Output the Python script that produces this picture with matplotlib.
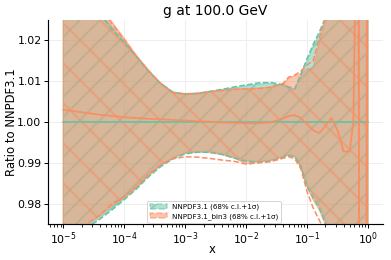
import numpy as np
import matplotlib
matplotlib.use('Agg')
import matplotlib.pyplot as plt
from matplotlib.patches import Patch

# log10(x) nodes
logx = [-5.0, -4.8, -4.6, -4.4, -4.2, -4.0, -3.8, -3.6, -3.4, -3.2, -3.0,
        -2.8, -2.6, -2.4, -2.2, -2.0, -1.8, -1.6, -1.4, -1.3, -1.2, -1.1,
        -1.0, -0.9, -0.8, -0.7, -0.6, -0.5, -0.4, -0.3, -0.24, -0.2, -0.155,
        -0.145, -0.1, -0.025, -0.015, 0.0]

# NNPDF3.1 (reference, so central = 1)
ref_cv = [1.0] * len(logx)
ref_up = [1.060, 1.045, 1.035, 1.027, 1.0232, 1.0198, 1.0162, 1.0125, 1.0095, 1.0074, 1.0069,
          1.0070, 1.0074, 1.0079, 1.0084, 1.0089, 1.0093, 1.0095, 1.0090, 1.0085, 1.0080, 1.0115,
          1.0150, 1.0185, 1.0215, 1.0250, 1.030, 1.040, 1.050, 1.060, 1.070, 1.080, 1.090,
          1.090, 1.100, 1.110, 1.110, 1.120]
ref_lo = [0.940, 0.960, 0.9745, 0.9765, 0.9788, 0.9812, 0.9838, 0.9868, 0.9893, 0.9912, 0.9924,
          0.9928, 0.9928, 0.9923, 0.9914, 0.9906, 0.9903, 0.9906, 0.9915, 0.9920, 0.9917, 0.9893,
          0.9848, 0.9822, 0.9796, 0.9760, 0.9720, 0.965, 0.955, 0.945, 0.940, 0.935, 0.930,
          0.930, 0.920, 0.910, 0.910, 0.900]
ref_sd_up = [1.058, 1.043, 1.034, 1.0265, 1.0227, 1.0195, 1.0160, 1.0124, 1.0094, 1.0073, 1.0068,
             1.0070, 1.0075, 1.0080, 1.0086, 1.0091, 1.0096, 1.0097, 1.0092, 1.0086, 1.0082, 1.0118,
             1.0155, 1.0190, 1.0220, 1.0255, 1.031, 1.041, 1.051, 1.061, 1.071, 1.081, 1.091,
             1.091, 1.101, 1.111, 1.111, 1.121]
ref_sd_lo = [0.942, 0.961, 0.9742, 0.9762, 0.9785, 0.9810, 0.9836, 0.9866, 0.9891, 0.9910, 0.9922,
             0.9926, 0.9926, 0.9921, 0.9912, 0.9904, 0.9901, 0.9904, 0.9913, 0.9918, 0.9915, 0.9890,
             0.9843, 0.9815, 0.9790, 0.9752, 0.9712, 0.964, 0.954, 0.944, 0.939, 0.934, 0.929,
             0.929, 0.919, 0.909, 0.909, 0.899]

# NNPDF3.1_bin3
bin_cv = [1.0030, 1.0026, 1.0022, 1.0018, 1.0015, 1.0012, 1.0010, 1.0008, 1.0007, 1.0005, 1.0004,
          1.0002, 1.0001, 0.9999, 0.9998, 0.9997, 0.9997, 0.9999, 1.0008, 1.0015, 1.0017, 1.0010,
          0.9995, 0.9980, 0.9973, 0.9990, 1.0010, 0.9980, 0.9928, 0.9928, 1.0000, 1.0400, 1.0400,
          0.9600, 0.9600, 0.9600, 1.0400, 1.0400]
bin_up = [1.070, 1.050, 1.038, 1.029, 1.0245, 1.0205, 1.0163, 1.0127, 1.0095, 1.0072, 1.0070,
          1.0071, 1.0075, 1.0078, 1.0081, 1.0082, 1.0083, 1.0086, 1.0092, 1.0108, 1.0113, 1.0118,
          1.0130, 1.0132, 1.0195, 1.0245, 1.030, 1.045, 1.060, 1.080, 1.090, 1.100, 1.200,
          1.200, 1.250, 1.300, 1.300, 1.400]
bin_lo = [0.930, 0.955, 0.9750, 0.9770, 0.9795, 0.9815, 0.9840, 0.9870, 0.9895, 0.9913, 0.9924,
          0.9926, 0.9925, 0.9920, 0.9912, 0.9898, 0.9902, 0.9906, 0.9914, 0.9919, 0.9914, 0.9890,
          0.9840, 0.9810, 0.9785, 0.9750, 0.9700, 0.960, 0.940, 0.920, 0.910, 0.900, 0.800,
          0.800, 0.750, 0.700, 0.700, 0.600]
bin_sd_up = [1.068, 1.049, 1.037, 1.0285, 1.0240, 1.0202, 1.0161, 1.0126, 1.0094, 1.0071, 1.0069,
             1.0070, 1.0074, 1.0077, 1.0080, 1.0081, 1.0082, 1.0085, 1.0094, 1.0110, 1.0115, 1.0125,
             1.0140, 1.0150, 1.0205, 1.0255, 1.031, 1.046, 1.062, 1.082, 1.092, 1.102, 1.202,
             0.800, 0.800, 0.800, 1.300, 1.400]
bin_sd_lo = [0.935, 0.957, 0.9752, 0.9772, 0.9800, 0.9818, 0.9842, 0.9872, 0.9896, 0.9910, 0.9915,
             0.9914, 0.9911, 0.9907, 0.9904, 0.9897, 0.9900, 0.9903, 0.9911, 0.9915, 0.9910, 0.9885,
             0.9830, 0.9790, 0.9760, 0.9730, 0.9690, 0.958, 0.938, 0.918, 0.908, 0.898, 0.798,
             1.200, 1.200, 1.200, 0.700, 0.600]

labels = ['NNPDF3.1 (68% c.l.+1σ)', 'NNPDF3.1_bin3 (68% c.l.+1σ)']
colors = ['#66c2a5', '#fc8d62']
hatches = ['//', '\\']

plt.rcParams['hatch.linewidth'] = 1.2
dpi = 120
fig = plt.figure(figsize=(391/dpi, 260/dpi), dpi=dpi)
ax = fig.add_axes([0.123, 0.138, 0.857, 0.785])

xg = 10**np.array(logx)
sets = [(ref_cv, ref_up, ref_lo, ref_sd_up, ref_sd_lo),
        (bin_cv, bin_up, bin_lo, bin_sd_up, bin_sd_lo)]
for (cv, up, lo, su, sl), col, hat in zip(sets, colors, hatches):
    ax.plot(xg, cv, color=col, lw=1.0, zorder=3)
    ax.fill_between(xg, up, lo, color=col, alpha=0.5, lw=0, zorder=1)
    ax.fill_between(xg, up, lo, facecolor='none', edgecolor=col, alpha=0.5,
                    hatch=hat, lw=0.8, zorder=1)
    ax.plot(xg, su, '--', color=col, lw=0.9, zorder=2)
    ax.plot(xg, sl, '--', color=col, lw=0.9, zorder=2)

ax.set_xscale('log')
ax.set_ylim(0.975, 1.025)
ax.set_yticks([0.98, 0.99, 1.00, 1.01, 1.02])
ax.set_xticks([1e-5, 1e-4, 1e-3, 1e-2, 1e-1, 1])
ax.grid(True, color='#eeeeee', lw=0.6)
ax.set_axisbelow(True)
for s in ['top', 'right']:
    ax.spines[s].set_visible(False)
for s in ['left', 'bottom']:
    ax.spines[s].set_linewidth(0.7)
ax.tick_params(labelsize=6.5, width=0.6, length=2.5, pad=1.5)
ax.tick_params(which='minor', width=0.5, length=1.5)
ax.set_title('g at 100.0 GeV', fontsize=8.3, pad=3)
ax.set_xlabel('x', fontsize=7)
ax.set_ylabel('Ratio to NNPDF3.1', fontsize=7)
ax.xaxis.set_label_coords(0.49, -0.125)
ax.yaxis.set_label_coords(-0.11, 0.5)
ax.xaxis.label.set_va('center')
ax.yaxis.label.set_va('center')

handles = [Patch(facecolor=c, edgecolor=c, alpha=0.5, hatch=h, linestyle='--')
           for c, h in zip(colors, hatches)]
leg = ax.legend(handles, labels, loc='lower center', bbox_to_anchor=(0.495, -0.01),
                fontsize=4.3, framealpha=1, borderpad=0.4, handlelength=2.4,
                handletextpad=0.6, labelspacing=0.35)
leg.get_frame().set_linewidth(0.5)

fig.savefig('out.png', dpi=dpi)
